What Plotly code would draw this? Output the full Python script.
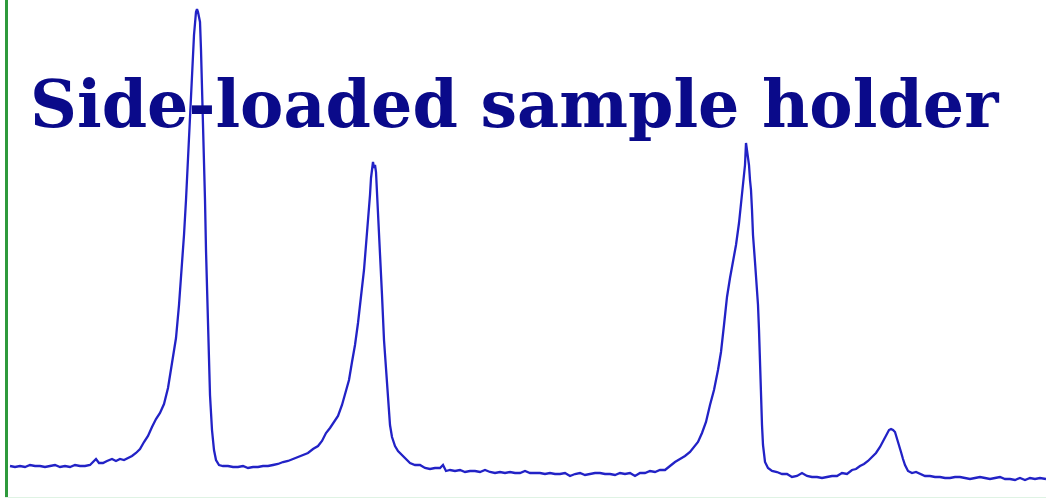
import plotly.graph_objects as go

title_text = "Side-loaded sample holder"

channel = [10, 15, 20, 25, 30, 35, 40, 45, 50, 55, 60, 65, 70, 75, 80, 85, 90, 93, 96, 99,
           103, 107, 112, 116, 120, 124, 128, 132, 136, 140, 144, 148, 152, 156, 160, 164, 168, 172, 176, 179,
           182, 184, 186, 188, 190, 192, 194, 196, 197, 198, 200, 201, 202, 203, 204, 205, 206, 207, 208, 209,
           210, 212, 214, 216, 219, 223, 228, 233, 238, 243, 248, 253, 258, 263, 268, 273, 278, 283, 288, 293,
           298, 303, 308, 313, 318, 322, 326, 330, 334, 338, 342, 346, 349, 352, 355, 358, 361, 364, 366, 368,
           370, 371, 372, 373, 374, 375, 376, 377, 378, 379, 380, 381, 382, 384, 386, 388, 390, 392, 395, 398,
           402, 406, 410, 415, 420, 425, 430, 435, 440, 443, 446, 450, 455, 460, 465, 470, 475, 480, 485, 490,
           495, 500, 505, 510, 515, 520, 525, 530, 535, 540, 545, 550, 555, 560, 565, 570, 575, 580, 585, 590,
           595, 600, 605, 610, 615, 620, 625, 630, 635, 640, 645, 650, 655, 660, 665, 670, 675, 680, 685, 690,
           694, 698, 702, 706, 710, 714, 718, 721, 724, 727, 730, 733, 736, 739, 741, 743, 745, 746, 747, 748,
           749, 750, 751, 752, 753, 755, 757, 758, 759, 760, 761, 762, 763, 765, 768, 772, 777, 782, 787, 792,
           797, 802, 807, 812, 817, 822, 827, 832, 837, 842, 847, 852, 856, 860, 864, 868, 872, 876, 880, 884,
           887, 889, 891, 893, 895, 897, 899, 901, 903, 905, 908, 912, 916, 920, 925, 930, 935, 940, 945, 950,
           955, 960, 965, 970, 975, 980, 985, 990, 995, 1000, 1005, 1010, 1015, 1020, 1025, 1030, 1035, 1040, 1046]

counts = [31, 30, 31, 30, 32, 31, 31, 30, 31, 32, 30, 31, 30, 32, 31, 31, 32, 35, 38, 34,
          34, 36, 38, 36, 38, 37, 39, 41, 44, 48, 55, 61, 70, 78, 84, 93, 109, 132, 159, 192,
          232, 262, 297, 337, 379, 422, 462, 485, 488, 485, 475, 447, 412, 382, 337, 297, 247, 207, 167, 132,
          102, 67, 47, 37, 32, 31, 31, 30, 30, 31, 29, 30, 30, 31, 31, 32, 33, 35, 36, 38,
          40, 42, 44, 48, 51, 56, 64, 69, 75, 81, 92, 105, 117, 135, 152, 174, 199, 227, 252, 275,
          302, 319, 329, 335, 329, 332, 325, 302, 277, 257, 237, 217, 202, 157, 125, 97, 72, 60, 51, 46,
          42, 37, 34, 32, 32, 29, 28, 29, 29, 32, 26, 27, 26, 27, 25, 26, 26, 25, 27, 25,
          24, 25, 24, 25, 24, 24, 26, 24, 24, 24, 23, 24, 23, 23, 24, 21, 23, 24, 22, 23,
          24, 24, 23, 23, 22, 24, 23, 24, 21, 24, 24, 26, 25, 27, 27, 31, 35, 38, 41, 45,
          50, 55, 64, 75, 92, 107, 127, 145, 172, 200, 219, 236, 252, 274, 292, 312, 332, 354, 347, 342,
          332, 317, 307, 287, 262, 235, 212, 192, 167, 127, 97, 72, 52, 35, 29, 26, 25, 23, 23, 20,
          21, 24, 21, 20, 20, 19, 20, 21, 21, 24, 23, 27, 28, 31, 33, 36, 40, 44, 50, 57,
          62, 67, 68, 67, 65, 59, 52, 45, 38, 32, 26, 24, 25, 23, 21, 21, 20, 20, 19, 19,
          20, 20, 19, 18, 19, 20, 19, 18, 19, 20, 18, 18, 17, 19, 17, 19, 18, 19, 18]

fig = go.Figure()
fig.add_trace(go.Scatter(
    x=channel, y=counts, mode="lines",
    line=dict(color="#2222c6", width=2.3),
    hoverinfo="skip", showlegend=False,
))

fig.add_annotation(
    text="<b>" + title_text + "</b>",
    xref="paper", yref="paper",
    x=(28 - 8) / 1038, y=1 - 104 / 497,
    xanchor="left", yanchor="middle",
    showarrow=False,
    font=dict(family="DejaVu Serif", size=65, color="#0a0a8a"),
)

fig.update_layout(
    width=1046, height=499,
    margin=dict(l=8, r=0, t=0, b=2),
    paper_bgcolor="white", plot_bgcolor="white",
    xaxis=dict(range=[8, 1046], showgrid=False, zeroline=False, showticklabels=False, ticks="",
               showline=True, linecolor="#dff3e4", linewidth=1),
    yaxis=dict(range=[0, 497], showgrid=False, zeroline=False, showticklabels=False, ticks="",
               showline=True, linecolor="#2e9a3c", linewidth=3),
)

fig.write_html("out.html", config={"displayModeBar": False},
               post_script="document.body.style.margin='0';document.body.style.overflow='hidden';")
